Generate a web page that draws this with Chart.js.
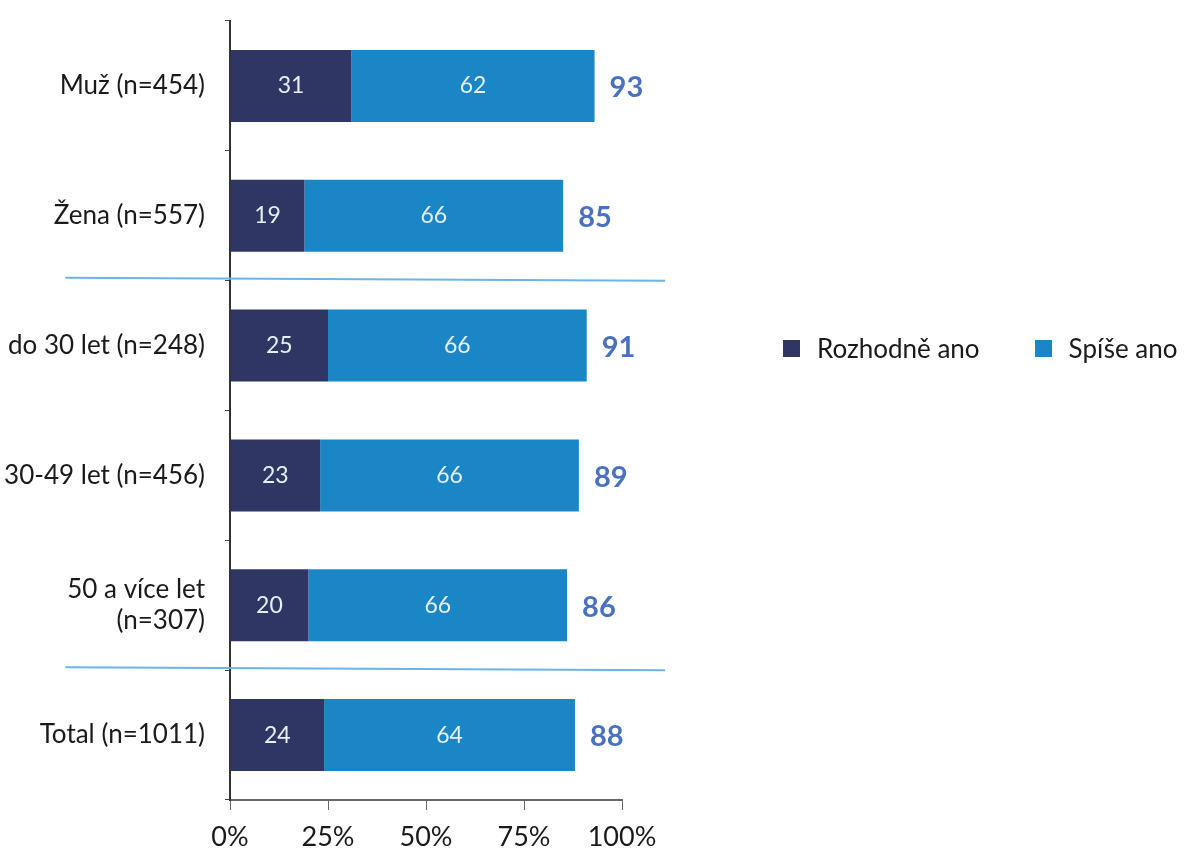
<!DOCTYPE html>
<html>
<head>
<meta charset="utf-8">
<script src="https://cdn.jsdelivr.net/npm/chart.js@4/dist/chart.umd.min.js"></script>
<style>
    html, body { margin: 0; padding: 0; background: #fff; }
    #wrap { position: relative; width: 1187px; height: 851px; }
    #legend { position: absolute; left: 783px; top: 331px; font-family: Lato, "Open Sans", sans-serif; font-size: 26px; line-height: 34px; color: #1a1a1a; display: flex; white-space: nowrap; }
    #legend .item { display: flex; align-items: center; margin-right: 55px; }
    #legend .box { width: 17px; height: 17px; margin-right: 17px; flex: none; }
</style>
</head>
<body>
<div id="wrap">
    <canvas id="chart" width="1187" height="851"></canvas>
    <div id="legend"></div>
</div>
<script>
const labels = ['Muž (n=454)', 'Žena (n=557)', 'do 30 let (n=248)', '30-49 let (n=456)', ['50 a více let', '(n=307)'], 'Total (n=1011)'];
const rozhodneAno = [31, 19, 25, 23, 20, 24];
const spiseAno = [62, 66, 66, 66, 66, 64];
const totals = [93, 85, 91, 89, 86, 88];
const seriesNames = ['Rozhodně ano', 'Spíše ano'];
const seriesColors = ['#2f3664', '#1a86c6'];
const separatorsAfter = [1, 4]; // čára pod kategorií

const FONT = 'Lato, "Open Sans", sans-serif';

// popisky uvnitř pruhů + součty vpravo
const labelPlugin = {
    id: 'barLabels',
    afterDatasetsDraw(chart) {
        const ctx = chart.ctx;
        ctx.save();
        ctx.textBaseline = 'middle';
        chart.data.datasets.forEach(function(ds, di) {
            const meta = chart.getDatasetMeta(di);
            meta.data.forEach(function(bar, i) {
                ctx.fillStyle = '#e8eef6';
                ctx.font = '23px ' + FONT;
                ctx.textAlign = 'center';
                ctx.fillText(ds.data[i], (bar.x + bar.base) / 2, bar.y);
            });
        });
        const last = chart.getDatasetMeta(chart.data.datasets.length - 1);
        last.data.forEach(function(bar, i) {
            ctx.fillStyle = '#4a70c0';
            ctx.font = 'bold 29px ' + FONT;
            ctx.textAlign = 'left';
            ctx.fillText(totals[i], bar.x + 15, bar.y + 2);
        });
        ctx.restore();
    }
};

// oddělovací čáry mezi skupinami
const separatorPlugin = {
    id: 'separators',
    afterDraw(chart) {
        const ctx = chart.ctx;
        const y = chart.scales.y;
        const x = chart.scales.x;
        ctx.save();
        ctx.strokeStyle = '#6cb4e8';
        ctx.lineWidth = 2;
        separatorsAfter.forEach(function(idx) {
            const py = (y.getPixelForValue(idx) + y.getPixelForValue(idx + 1)) / 2 - 3;
            ctx.beginPath();
            ctx.moveTo(x.getPixelForValue(-42), py);
            ctx.lineTo(x.getPixelForValue(111), py + 3);
            ctx.stroke();
        });
        ctx.restore();
    }
};

const ctx = document.getElementById('chart').getContext('2d');
const myChart = new Chart(ctx, {
    type: 'bar',
    data: {
        labels: labels,
        datasets: [
            { label: seriesNames[0], data: rozhodneAno, backgroundColor: seriesColors[0], categoryPercentage: 1, barPercentage: 0.555 },
            { label: seriesNames[1], data: spiseAno, backgroundColor: seriesColors[1], categoryPercentage: 1, barPercentage: 0.555 }
        ]
    },
    options: {
        indexAxis: 'y',
        responsive: false,
        animation: false,
        layout: { padding: { top: 21, right: 565, left: 0, bottom: 0 } },
        plugins: {
            legend: { display: false },
            tooltip: { enabled: false }
        },
        scales: {
            x: {
                stacked: true,
                min: 0,
                max: 100,
                ticks: {
                    stepSize: 25,
                    callback: function(v) { return v + '%'; },
                    color: '#1a1a1a',
                    font: { family: FONT, size: 27 },
                    padding: 11
                },
                grid: { drawOnChartArea: false, drawTicks: true, tickLength: 10, color: '#666' },
                border: { color: '#666', width: 2 },
                afterFit: function(scale) { scale.height = 51; }
            },
            y: {
                stacked: true,
                ticks: {
                    color: '#1a1a1a',
                    font: { family: FONT, size: 26, lineHeight: 1.2 },
                    padding: 20
                },
                grid: { drawOnChartArea: false, drawTicks: true, tickLength: 5, offset: true, color: '#444' },
                border: { color: '#333', width: 2 },
                afterFit: function(scale) {
                    scale.width = 230;
                    scale.paddingTop = 0;
                    scale.paddingBottom = 0;
                }
            }
        }
    },
    plugins: [labelPlugin, separatorPlugin]
});

// legenda
const legend = document.getElementById('legend');
seriesNames.forEach(function(name, i) {
    const item = document.createElement('div');
    item.className = 'item';
    item.innerHTML = '<span class="box" style="background:' + seriesColors[i] + '"></span><span>' + name + '</span>';
    legend.appendChild(item);
});
</script>
</body>
</html>
